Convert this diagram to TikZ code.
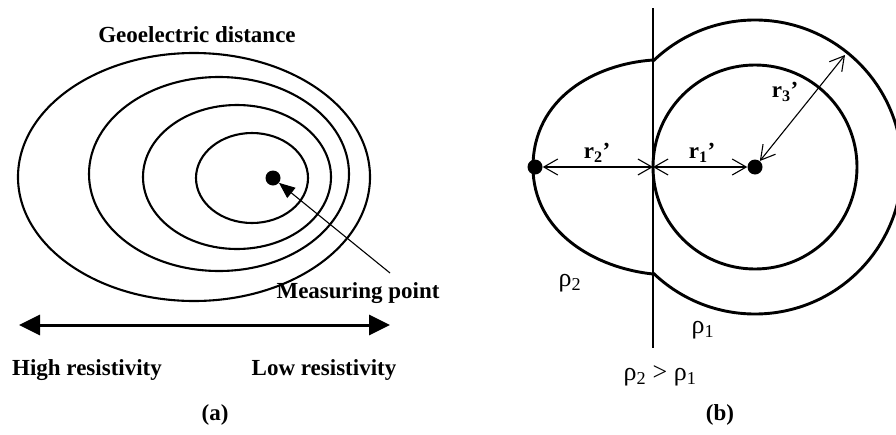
\documentclass[tikz,border=0pt]{standalone}
\usepackage{fontspec}
\setmainfont{Liberation Serif}
\usetikzlibrary{arrows.meta}
\begin{document}
\begin{tikzpicture}[x=1pt,y=-1pt,
  lbl/.style={font=\fontsize{23}{26}\selectfont\bfseries, inner sep=0pt},
  rholbl/.style={font=\fontsize{26}{28}\selectfont, inner sep=0pt},
  dot/.style={circle, fill=black, inner sep=0pt, minimum size=15pt},
  contour/.style={line width=2.1pt},
  bound/.style={line width=2.9pt},
  thinarrow/.style={line width=1.1pt, {Straight Barb[length=14pt,width=16pt]}-{Straight Barb[length=14pt,width=16pt]}},
]
\useasboundingbox (0,0) rectangle (896,434);
% ---------- panel (a)
\draw[contour] (194,177) ellipse [x radius=176pt, y radius=124pt];
\draw[contour] (219,174) ellipse [x radius=130pt, y radius=97pt];
\draw[contour] (237,177) ellipse [x radius=94pt, y radius=72pt];
\draw[contour] (252,178) ellipse [x radius=56pt, y radius=45pt];
\node[dot] (d1) at (273,178) {};
\node[lbl] (geo) at (197,35) {Geoelectric distance};
\node[lbl] (mp) at (358,293) {Measuring point};
\coordinate (mpa) at (390,273);
\draw[line width=1.1pt, -{Triangle[length=16pt,width=13pt]}] (mpa) -- (d1);
\coordinate (hl) at (19,325);
\coordinate (hr) at (390,325);
\draw[line width=3pt, {Triangle[length=21pt,width=20pt]}-{Triangle[length=21pt,width=20pt]}] (hl) -- (hr);
\node[lbl] (high) at (87,370) {High resistivity};
\node[lbl] (low) at (324,370) {Low resistivity};
\node[lbl] (capa) at (215,415) {(a)};
% ---------- panel (b)
\coordinate (vt) at (653,8);
\coordinate (vb) at (653,348);
\draw[bound] (vt) -- (vb);
\node[dot] (R) at (755,167) {};
\node[dot] (L) at (535,167) {};
\coordinate (M) at (653,167);
\draw[bound] (R.center) circle[radius=102pt];
\begin{scope}
  \clip (653,0) rectangle (896,434);
  \draw[bound] (R.center) circle[radius=147pt];
\end{scope}
\coordinate (top) at (653,60);
\coordinate (bot) at (653,274);
\draw[bound] (top) .. controls (595,64) and (533,98) .. (533,167)
                   .. controls (533,232) and (595,268) .. (bot);
\draw[thinarrow] (L) -- (M);
\draw[thinarrow] (M) -- (R);
\coordinate (E) at (845,55);
\draw[thinarrow] (R) -- (E);
\node[lbl] (r2) at (597,153) {r\textsubscript{2}’};
\node[lbl] (r1) at (702,153) {r\textsubscript{1}’};
\node[lbl] (r3) at (785,92) {r\textsubscript{3}’};
\node[rholbl] (p2) at (570,283) {ρ\textsubscript{2}};
\node[rholbl] (p1) at (703,330) {ρ\textsubscript{1}};
\node[rholbl] (cmp) at (660,376) {ρ\textsubscript{2} > ρ\textsubscript{1}};
\node[lbl] (capb) at (720,415) {(b)};
\end{tikzpicture}
\end{document}
